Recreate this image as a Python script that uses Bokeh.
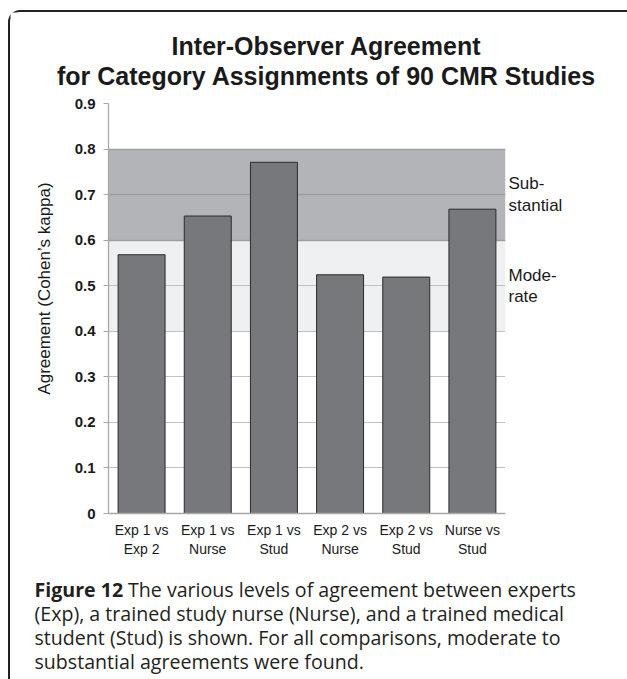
from bokeh.plotting import figure
from bokeh.models import FactorRange, Range1d, Label, Grid, FixedTicker, LinearAxis
from bokeh.layouts import column, row
from bokeh.embed import file_html
from bokeh.resources import INLINE

# ---- data ----
categories = ["Exp 1 vs\nExp 2", "Exp 1 vs\nNurse", "Exp 1 vs\nStud",
              "Exp 2 vs\nNurse", "Exp 2 vs\nStud", "Nurse vs\nStud"]
kappa = [0.568, 0.653, 0.771, 0.524, 0.519, 0.668]
band_names = ["Mode-\nrate", "Sub-\nstantial"]
band_bottom = [0.4, 0.6]
band_top = [0.6, 0.8]
band_colors = ["#eff0f2", "#b3b4b8"]
y_ticks = [0.0, 0.1, 0.2, 0.3, 0.4, 0.5, 0.6, 0.7, 0.8, 0.9]
y_tick_labels = ["0", "0.1", "0.2", "0.3", "0.4", "0.5", "0.6", "0.7", "0.8", "0.9"]
title_lines = ["Inter-Observer Agreement", "for Category Assignments of 90 CMR Studies"]
y_label = "Agreement (Cohen\u2019s kappa)"
caption_bold = "Figure 12"
caption_lines = [" The various levels of agreement between experts",
                 "(Exp), a trained study nurse (Nurse), and a trained medical",
                 "student (Stud) is shown. For all comparisons, moderate to",
                 "substantial agreements were found."]

BW = 2                      # outer frame line width (css border)
ML, MT = 8, 10              # css margin of the framed block
OX, OY = ML + BW, MT + BW   # page position of content origin
W = 627 - OX
H_TITLE = 96 - OY
H_CHART = 480
H_CAP = 679 - OY - H_TITLE - H_CHART
YW = 58                     # width of the y-label strip
TXT = "#1a1a1a"

def text_fig(w, h):
    f = figure(width=w, height=h, output_backend="svg", toolbar_location=None,
               x_range=Range1d(0, w), y_range=Range1d(h, 0),
               x_axis_location=None, y_axis_location=None,
               min_border=0, outline_line_color=None, frame_align=False)
    f.grid.visible = False
    return f

def lab(f, left, top, px, py, text, **kw):
    opts = dict(x=px - left, y=py - top, x_units="canvas", y_units="canvas", text=text,
                text_baseline="middle", text_font="Liberation Sans", text_color=TXT)
    opts.update(kw)
    f.add_layout(Label(**opts))

# ---- title ----
top_title = OY
pt = text_fig(W, H_TITLE)
for i, t in enumerate(title_lines):
    lab(pt, OX, top_title, 326, 45 + 30 * i, t, text_align="center",
        text_font_style="bold", text_font_size="25px")

# ---- y label strip ----
top_chart = top_title + H_TITLE
py_ = text_fig(YW, H_CHART)
lab(py_, OX, top_chart, 44, 288, y_label, angle=90, angle_units="deg",
    text_align="center", text_font_size="17px")

# ---- chart ----
frame_top, frame_bottom = 103, 513
frame_left, frame_right = 108, 505
CW = W - YW
p = figure(width=CW, height=H_CHART, output_backend="svg", toolbar_location=None,
           x_range=FactorRange(factors=categories, range_padding=0, factor_padding=0),
           y_range=Range1d(y_ticks[0], y_ticks[-1]),
           min_border_left=frame_left - OX - YW, min_border_right=CW - (frame_right - OX - YW),
           min_border_top=frame_top - top_chart,
           min_border_bottom=H_CHART - (frame_bottom - top_chart),
           outline_line_color=None, frame_align=False)

p.quad(left=0, right=len(categories), bottom=band_bottom, top=band_top,
       fill_color=band_colors, line_color=None, level="image")
p.vbar(x=categories, top=kappa, width=0.71, fill_color="#77787c",
       line_color="#2a2a2a", line_width=1)

p.xgrid.visible = False
p.ygrid.ticker = FixedTicker(ticks=y_ticks)
p.ygrid.grid_line_color = "#c2c2c2"
p.ygrid.grid_line_width = 1.2
p.add_layout(Grid(dimension=1, ticker=FixedTicker(ticks=[band_bottom[1], 0.7, band_top[1]]),
                  grid_line_color="#9d9ea2", grid_line_width=1.5))

p.yaxis.ticker = FixedTicker(ticks=y_ticks)
p.yaxis.major_label_overrides = dict(zip(y_ticks, y_tick_labels))
p.yaxis.minor_tick_line_color = None
p.yaxis.major_tick_in = 0
p.yaxis.major_tick_out = 5
p.yaxis.axis_line_color = "#a8a8a8"
p.yaxis.major_tick_line_color = "#a8a8a8"
p.yaxis.axis_line_width = 1.3
p.yaxis.major_label_text_font = "Liberation Sans"
p.yaxis.major_label_text_font_style = "bold"
p.yaxis.major_label_text_font_size = "15px"
p.yaxis.major_label_text_color = TXT
p.yaxis.major_label_standoff = 8

p.xaxis.major_tick_line_color = None
p.xaxis.minor_tick_line_color = None
p.xaxis.major_tick_out = 0
p.xaxis.axis_line_color = "#a8a8a8"
p.xaxis.axis_line_width = 1.3
p.xaxis.major_label_text_font = "Liberation Sans"
p.xaxis.major_label_text_font_size = "14px"
p.xaxis.major_label_text_color = TXT
p.xaxis.major_label_standoff = 8

band_mid = [(b + t) / 2 for b, t in zip(band_bottom, band_top)]
raxis = LinearAxis(ticker=FixedTicker(ticks=band_mid),
                   major_label_overrides=dict(zip(band_mid, band_names)),
                   axis_line_color=None, major_tick_line_color=None,
                   minor_tick_line_color=None, major_tick_in=0, major_tick_out=0,
                   major_label_standoff=3, major_label_text_font="Liberation Sans",
                   major_label_text_font_size="17px", major_label_text_color=TXT,
                   major_label_text_line_height=1.12)
p.add_layout(raxis, "right")

# ---- caption ----
top_cap = top_chart + H_CHART
pc = text_fig(W, H_CAP)
cap = dict(text_font="Open Sans", text_font_size="19.6px", text_color="#231f20")
lab(pc, OX, top_cap, 34, 589, caption_bold, text_font_style="bold", **cap)
lab(pc, OX, top_cap, 34, 589, caption_lines[0], x_offset=93.5, **cap)
for i, t in enumerate(caption_lines[1:]):
    lab(pc, OX, top_cap, 34, 613 + 24 * i, t, **cap)

layout = column(pt, row(py_, p, spacing=0), pc, spacing=0, margin=(MT, 0, 0, ML))
layout.styles = {"border-top": f"{BW}px solid #222222", "border-left": f"{BW}px solid #222222",
                 "border-top-left-radius": "12px"}

open("out.html", "w").write(file_html(layout, INLINE))
